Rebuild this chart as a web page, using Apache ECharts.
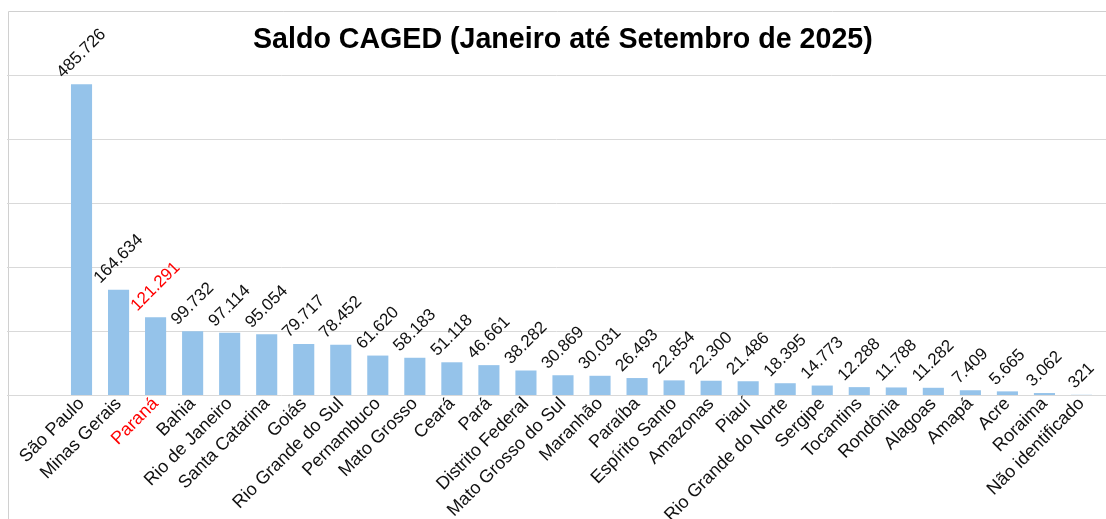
<!DOCTYPE html>
<html>
<head>
<meta charset="utf-8">
<script src="https://cdn.jsdelivr.net/npm/echarts@6/dist/echarts.min.js"></script>
<style>
html,body{margin:0;padding:0;background:#fff;}
#chart{width:1106px;height:519px;}
</style>
</head>
<body>
<div id="chart"></div>
<script>
const categories = ["São Paulo","Minas Gerais","Paraná","Bahia","Rio de Janeiro","Santa Catarina","Goiás","Rio Grande do Sul","Pernambuco","Mato Grosso","Ceará","Pará","Distrito Federal","Mato Grosso do Sul","Maranhão","Paraíba","Espírito Santo","Amazonas","Piauí","Rio Grande do Norte","Sergipe","Tocantins","Rondônia","Alagoas","Amapá","Acre","Roraima","Não identificado"];
const saldo = [485726,164634,121291,99732,97114,95054,79717,78452,61620,58183,51118,46661,38282,30869,30031,26493,22854,22300,21486,18395,14773,12288,11788,11282,7409,5665,3062,321];
const highlighted = ["Paraná"];
const titleText = "Saldo CAGED (Janeiro até Setembro de 2025)";

function fmt(v){
  return String(v).replace(/\B(?=(\d{3})+(?!\d))/g, ".");
}
const FONT = "Liberation Sans, Arial, sans-serif";
const RED = "#ff0000";
const TXT = "#111111";

const chart = echarts.init(document.getElementById('chart'), null, {renderer:'canvas'});
chart.setOption({
  animation:false,
  backgroundColor:'#fff',
  title:{text:titleText,left:248,top:21,textStyle:{fontFamily:FONT,fontSize:28.6,fontWeight:'bold',color:'#000'}},
  graphic:[{type:'rect',left:6,top:9,shape:{width:1200,height:600},style:{fill:'none',stroke:'#d0d0d0',lineWidth:1},silent:true,z:-1}],
  grid:[
    {left:63,right:6,top:75,bottom:124,containLabel:false,outerBoundsMode:'none'},
    {left:7,right:0,top:75,bottom:124,containLabel:false,outerBoundsMode:'none'}
  ],
  xAxis:[
    {type:'category',gridIndex:0,data:categories,
     axisLine:{show:false},axisTick:{show:false},
     axisLabel:{interval:0,rotate:45,margin:6,fontFamily:FONT,fontSize:18,
       color:function(v){return highlighted.indexOf(v)>=0?RED:TXT;}}},
    {type:'value',gridIndex:1,show:false,min:0,max:1}
  ],
  yAxis:[
    {type:'value',gridIndex:0,min:0,max:500000,interval:100000,show:false,splitLine:{show:false}},
    {type:'value',gridIndex:1,min:0,max:500000,interval:100000,
     axisLabel:{show:false},axisTick:{show:false},axisLine:{show:false},
     splitLine:{show:true,lineStyle:{color:'#d9d9d9',width:1}}}
  ],
  series:[{
    type:'bar',xAxisIndex:0,yAxisIndex:0,
    data:saldo.map((v,i)=>({value:v,label:{color:highlighted.indexOf(categories[i])>=0?RED:TXT}})),
    barCategoryGap:'43%',
    itemStyle:{color:'#95c3ea'},
    label:{show:true,position:'top',fontFamily:FONT,fontSize:17,color:TXT,
      formatter:function(p){return fmt(p.value);}},
    labelLayout:function(p){
      const L=p.labelRect.width, h=p.labelRect.height;
      const cx=p.rect.x+p.rect.width/2;
      const top=p.rect.y;
      const off=(L+h)/2*Math.SQRT1_2+3;
      return {x:cx,y:top-off,rotate:45,align:'center',verticalAlign:'middle'};
    }
  }]
});
</script>
</body>
</html>
